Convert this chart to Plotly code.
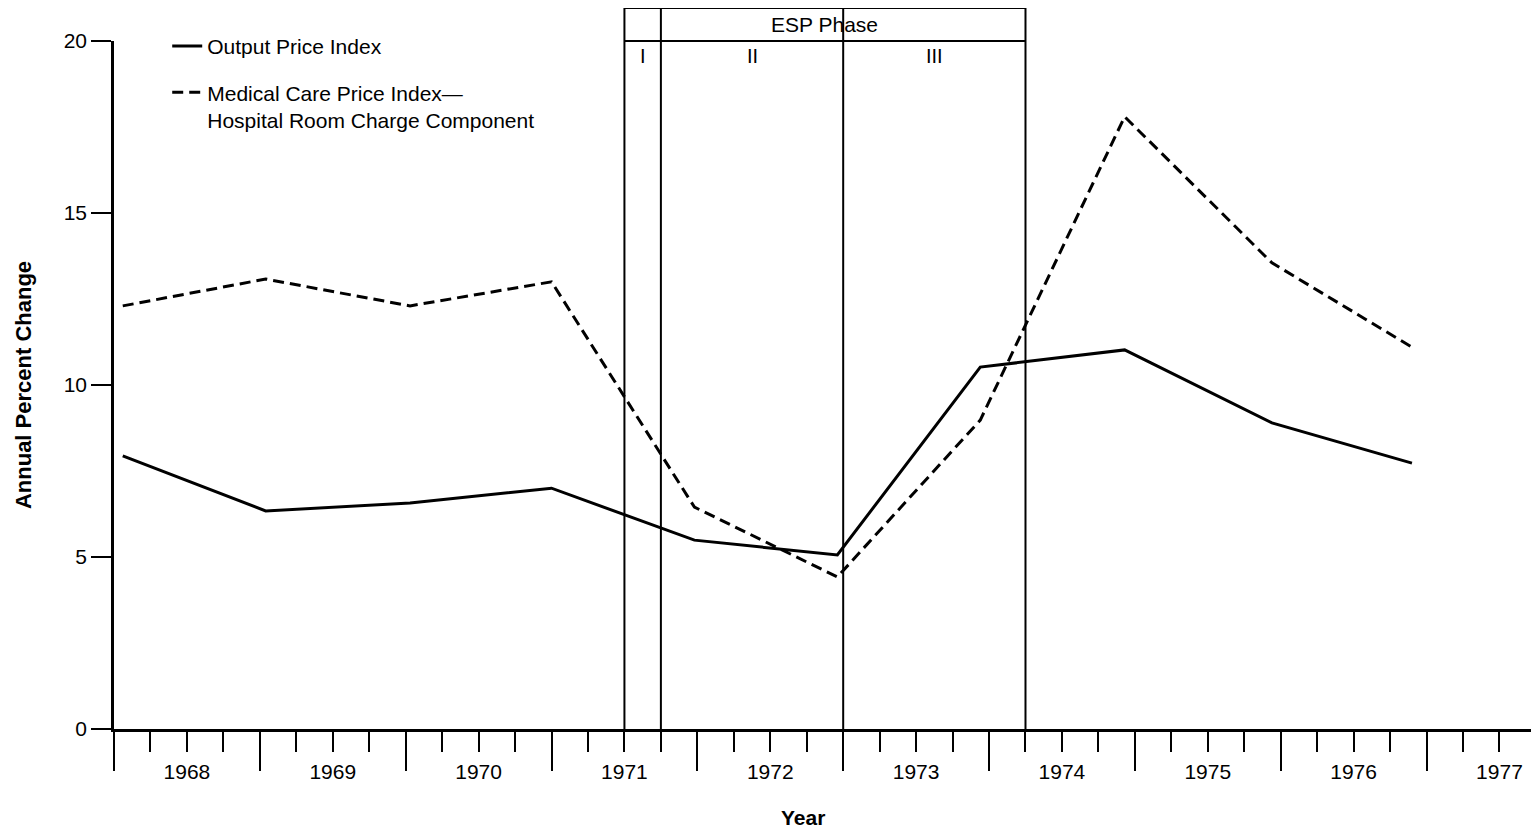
import plotly.graph_objects as go

# ---- data ----
x_years = [1967.56, 1968.54, 1969.53, 1970.5, 1971.48, 1972.46, 1973.44, 1974.43, 1975.44, 1976.40]
output_price = [7.94, 6.34, 6.57, 7.0, 5.49, 5.06, 10.52, 11.02, 8.9, 7.73]
medical_room = [12.3, 13.08, 12.3, 13.0, 6.45, 4.42, 8.98, 17.8, 13.55, 11.1]

year_labels = [1968, 1969, 1970, 1971, 1972, 1973, 1974, 1975, 1976, 1977]
year_bounds = [1967.5, 1968.5, 1969.5, 1970.5, 1971.5, 1972.5, 1973.5, 1974.5, 1975.5, 1976.5]
y_ticks = [0, 5, 10, 15, 20]

esp_bounds = [1971.0, 1971.25, 1972.5, 1973.75]
esp_phases = ["I", "II", "III"]

FONT = "Liberation Sans, Arial, Helvetica, sans-serif"
Y_MAX = 20

fig = go.Figure()
fig.add_trace(go.Scatter(
    x=x_years, y=output_price, mode="lines", name="Output Price Index",
    line=dict(color="black", width=3), legendgroup="a",
))
fig.add_trace(go.Scatter(
    x=x_years, y=medical_room, mode="lines",
    name="Medical Care Price Index\u2014<br>Hospital Room Charge Component",
    line=dict(color="black", width=3, dash="11px,6px"), legendgroup="b",
))
# empty helper trace so that the overlay axis (long year-boundary ticks) is drawn
fig.add_trace(go.Scatter(
    x=year_bounds, y=[None] * len(year_bounds), xaxis="x2", yaxis="y",
    mode="lines", showlegend=False, hoverinfo="skip",
))

# ESP phase box
top = 1.048
for b in esp_bounds:
    fig.add_shape(type="line", xref="x", yref="paper", x0=b, x1=b, y0=0, y1=top,
                  line=dict(color="black", width=2), layer="above")
for yy in (1.0, top):
    fig.add_shape(type="line", xref="x", yref="paper", x0=esp_bounds[0], x1=esp_bounds[-1],
                  y0=yy, y1=yy, line=dict(color="black", width=2), layer="above")
fig.add_annotation(x=(esp_bounds[0] + esp_bounds[-1]) / 2, y=(1.0 + top) / 2, xref="x", yref="paper",
                   xanchor="center", yanchor="middle",
                   text="ESP Phase", showarrow=False, font=dict(size=21, color="black", family=FONT))
for i, lab in enumerate(esp_phases):
    fig.add_annotation(x=(esp_bounds[i] + esp_bounds[i + 1]) / 2, y=0.9775, xref="x", yref="paper",
                       xanchor="center", yanchor="middle",
                       text=lab, showarrow=False, font=dict(size=20, color="black", family=FONT))

# x-axis title (placed slightly left of centre, as in the reference)
fig.add_annotation(x=0.4855, y=-0.128, xref="paper", yref="paper", xanchor="center", yanchor="middle",
                   text="<b>Year</b>", showarrow=False, font=dict(size=21, color="black", family=FONT))

# the page body adds an 8px offset, so the figure is sized to fill the rest of the window
fig.update_layout(
    width=1531, height=821,
    margin=dict(l=106, r=6, t=33, b=100, autoexpand=False),
    paper_bgcolor="white", plot_bgcolor="white",
    font=dict(family=FONT, color="black", size=21),
    showlegend=True,
    legend=dict(x=0.0375, y=1.022, xanchor="left", yanchor="top", bgcolor="rgba(0,0,0,0)",
                font=dict(size=21, family=FONT, color="black"), tracegroupgap=16,
                valign="top"),
    xaxis=dict(
        range=[1967.5, 1977.23], tickmode="array", tickvals=year_labels,
        ticktext=[str(v) for v in year_labels], automargin=False,
        ticks="outside", ticklen=20, tickwidth=2, tickcolor="black",
        minor=dict(dtick=0.25, tick0=1967.5, ticks="outside", ticklen=20, tickwidth=2, tickcolor="black"),
        showline=True, linecolor="black", linewidth=2.5, showgrid=False, zeroline=False,
        ticklabelstandoff=2, tickfont=dict(size=21),
    ),
    xaxis2=dict(
        overlaying="x", matches="x", anchor="y", side="bottom", automargin=False,
        tickmode="array", tickvals=year_bounds, ticks="outside", ticklen=41, tickwidth=2,
        tickcolor="black", showticklabels=False, showgrid=False, zeroline=False, showline=False,
    ),
    yaxis=dict(
        range=[0, Y_MAX], tickmode="array", tickvals=y_ticks, automargin=False,
        ticks="outside", ticklen=20, tickwidth=2, tickcolor="black",
        showline=True, linecolor="black", linewidth=2.5, showgrid=False, zeroline=False,
        tickfont=dict(size=21),
        title=dict(text="<b>Annual Percent Change</b>", standoff=26, font=dict(size=22)),
    ),
)

fig.write_html("out.html")
